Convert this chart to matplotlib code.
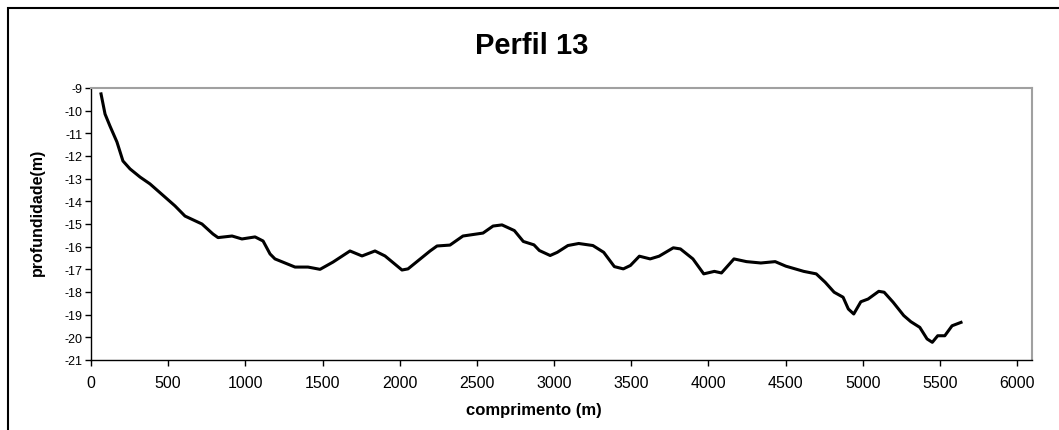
import matplotlib
matplotlib.use("Agg")
import matplotlib.pyplot as plt
from matplotlib.patches import Rectangle

# perfil batimetrico
comprimento = [65, 91, 123, 168, 207, 253, 318, 382, 479, 544, 609, 719, 790, 823,
               914, 978, 1063, 1115, 1160, 1192, 1257, 1322, 1406, 1484, 1568, 1678,
               1756, 1840, 1905, 2015, 2054, 2197, 2242, 2326, 2410, 2540, 2605, 2663,
               2743, 2801, 2870, 2905, 2975, 3021, 3090, 3160, 3252, 3322, 3391, 3449,
               3495, 3553, 3623, 3681, 3773, 3819, 3900, 3970, 4039, 4085, 4166, 4247,
               4340, 4433, 4502, 4618, 4699, 4757, 4815, 4873, 4907, 4942, 4988, 5035,
               5104, 5139, 5197, 5266, 5312, 5370, 5417, 5451, 5486, 5532, 5579, 5637]
profundidade = [-9.26, -10.15, -10.68, -11.38, -12.22, -12.57, -12.93, -13.23, -13.81,
                -14.20, -14.65, -15.00, -15.44, -15.60, -15.53, -15.66, -15.57, -15.75,
                -16.32, -16.54, -16.72, -16.90, -16.90, -17.00, -16.68, -16.19, -16.41,
                -16.19, -16.41, -17.03, -16.98, -16.19, -15.97, -15.93, -15.53, -15.40,
                -15.09, -15.04, -15.29, -15.77, -15.92, -16.17, -16.39, -16.25, -15.95,
                -15.86, -15.95, -16.25, -16.88, -16.98, -16.83, -16.42, -16.54, -16.42,
                -16.05, -16.10, -16.54, -17.20, -17.09, -17.16, -16.54, -16.66, -16.72,
                -16.66, -16.86, -17.09, -17.20, -17.57, -18.01, -18.23, -18.75, -18.97,
                -18.43, -18.31, -17.97, -18.01, -18.45, -19.04, -19.31, -19.56, -20.07,
                -20.22, -19.93, -19.93, -19.49, -19.34]
x_ticks = list(range(0, 6001, 500))
y_ticks = list(range(-21, -8))

plt.rcParams["font.family"] = ["Liberation Sans", "DejaVu Sans"]
plt.rcParams["axes.unicode_minus"] = False

fig = plt.figure(figsize=(10.59, 4.31), dpi=100)
ax = fig.add_axes([91 / 1059, 1 - 361 / 431, (1032 - 91) / 1059, (361 - 89) / 431])

ax.plot(comprimento, profundidade, color="black", linewidth=2.2)

ax.set_xlim(0, 6097)
ax.set_ylim(-21, -9)
ax.set_xticks(x_ticks)
ax.set_yticks(y_ticks)
ax.tick_params(axis="x", direction="out", length=4, width=1, labelsize=11.5, pad=7)
ax.tick_params(axis="y", direction="out", length=4, width=1, labelsize=9, pad=2)

for s in ["left", "bottom"]:
    ax.spines[s].set_color("black")
    ax.spines[s].set_linewidth(1)
for s in ["top", "right"]:
    ax.spines[s].set_color("#a0a0a0")
    ax.spines[s].set_linewidth(1.5)

ax.set_xlabel("comprimento (m)", fontsize=12, fontweight="bold")
ax.xaxis.set_label_coords(0.471, -0.155)
ax.set_ylabel("profundidade(m)", fontsize=11.5, fontweight="bold")
ax.yaxis.set_label_coords(-0.049, 0.545)

fig.text(0.502, 1 - 46 / 431, "Perfil 13", ha="center", va="center",
         fontsize=21, fontweight="bold")

# moldura exterior (só esquerda e topo visíveis)
fig.patches.append(Rectangle((8 / 1059, -0.2), 1.5, 1.2 - 9 / 431, transform=fig.transFigure,
                             fill=False, edgecolor="black", linewidth=1.5))

fig.savefig("out.png", dpi=100)
